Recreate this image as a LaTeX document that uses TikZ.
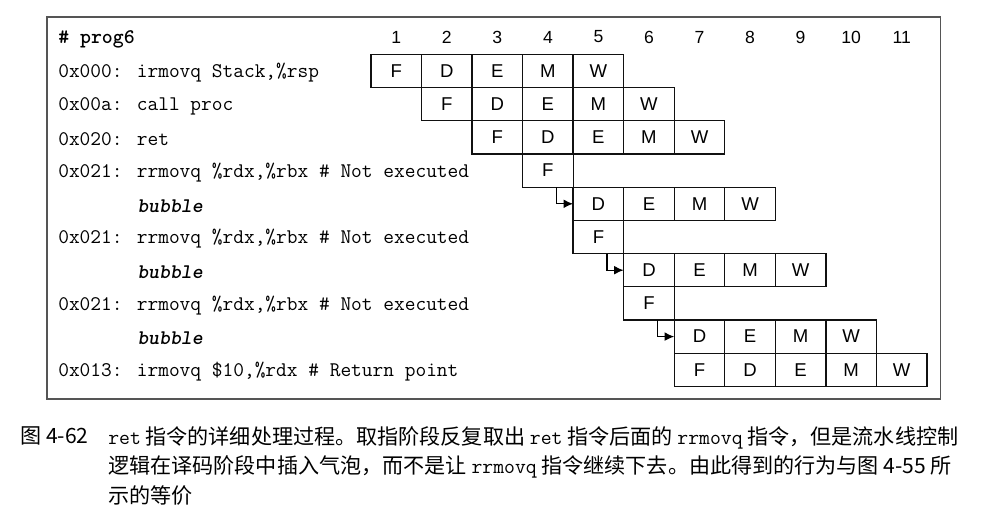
\documentclass[tikz,border=0pt]{standalone}
\usepackage{fontspec}
\usetikzlibrary{arrows.meta,calc}
\newfontfamily\cellfont{Liberation Sans}
\newfontfamily\cjk{Noto Sans CJK SC}
\definecolor{cFrame}{HTML}{555555}
\definecolor{cCell}{HTML}{111111}
\newcommand{\colx}[1]{345.73+50.54*#1}
\newcommand{\rowy}[1]{37.8+33.2*#1}

\begin{document}
\begin{tikzpicture}[
  x=0.025cm, y=-0.025cm,
  >=Latex,
  cell/.style={
    draw=cCell, line width=0.95pt, minimum width=1.2635cm, minimum height=0.83cm,
    inner sep=0pt, outer sep=0pt, font=\cellfont\fontsize{13.2}{15}\selectfont,
  },
  hdr/.style={inner sep=0pt, font=\cellfont\fontsize{12.5}{14}\selectfont},
  code/.style={anchor=west, inner sep=0pt, yshift=-0.05cm,
    font=\ttfamily\fontsize{14.8}{17}\selectfont},
  bubble/.style={code, font=\ttfamily\bfseries\slshape\fontsize{14.8}{17}\selectfont},
  stall/.style={-{Latex[length=2.4mm, width=2.2mm]}, line width=0.95pt},
  frame/.style={draw=cFrame, line width=0.8pt},
]
\useasboundingbox (0,0) rectangle (1006,517);

% clock cycles
\foreach \c in {1,...,11}
  \node[hdr] (h\c) at ({\colx{\c}}, 37) {\c};

% program listing
\node[code, font=\ttfamily\bfseries\fontsize{14.8}{17}\selectfont] (lprog) at (58, 37) {\# prog6};
\node[code] (l1) at (58, {\rowy{1}}) {0x000: irmovq Stack,\%rsp};
\node[code] (l2) at (58, {\rowy{2}}) {0x00a: call proc};
\node[code] (l3) at (58, {\rowy{3}}) {0x020: ret};
\node[code] (l4) at (58, {\rowy{4}}) {0x021: rrmovq \%rdx,\%rbx \# Not executed};
\node[bubble] (b5) at (137, {\rowy{5}}) {bubble};
\node[code] (l6) at (58, {\rowy{6}}) {0x021: rrmovq \%rdx,\%rbx \# Not executed};
\node[bubble] (b7) at (137, {\rowy{7}}) {bubble};
\node[code] (l8) at (58, {\rowy{8}}) {0x021: rrmovq \%rdx,\%rbx \# Not executed};
\node[bubble] (b9) at (137, {\rowy{9}}) {bubble};
\node[code] (l10) at (58, {\rowy{10}}) {0x013: irmovq \$10,\%rdx \# Return point};

% instructions that go through all stages
\foreach \r/\c in {1/1, 2/2, 3/3, 10/7}
  \foreach \s [count=\k from 0] in {F,D,E,M,W} {
    \pgfmathtruncatemacro{\col}{\c+\k}
    \node[cell] (r\r-\col) at ({\colx{\col}}, {\rowy{\r}}) {\s};
  }

% bubbles injected in decode
\foreach \r/\c in {5/5, 7/6, 9/7}
  \foreach \s [count=\k from 0] in {D,E,M,W} {
    \pgfmathtruncatemacro{\col}{\c+\k}
    \node[cell] (r\r-\col) at ({\colx{\col}}, {\rowy{\r}}) {\s};
  }

% fetched rrmovq, then dropped
\foreach \r/\c in {4/4, 6/5, 8/6}
  \node[cell] (r\r-\c) at ({\colx{\c}}, {\rowy{\r}}) {F};

\foreach \r/\c [evaluate=\r as \n using int(\r+1), evaluate=\c as \m using int(\c+1)]
    in {4/4, 6/5, 8/6}
  \draw[stall] ($(r\r-\c.south west)!0.67!(r\r-\c.south east)$) |- (r\n-\m.west);

\draw[frame] (47, 17) rectangle (940.5, 399);

% caption
\node[anchor=north west, inner sep=0pt, font=\cjk\fontsize{15}{21.2}\selectfont]
  (fignum) at (20, 426) {图 4-62};
\node[anchor=north west, inner sep=0pt, align=left,
      font=\cjk\fontsize{15}{21.2}\selectfont] (caption) at (108, 426)
  {{\ttfamily ret} 指令的详细处理过程。取指阶段反复取出 {\ttfamily ret} 指令后面的 {\ttfamily rrmovq} 指令，但是流水线控制\\
   逻辑在译码阶段中插入气泡，而不是让 {\ttfamily rrmovq} 指令继续下去。由此得到的行为与图 4-55 所\\
   示的等价};

\end{tikzpicture}
\end{document}
